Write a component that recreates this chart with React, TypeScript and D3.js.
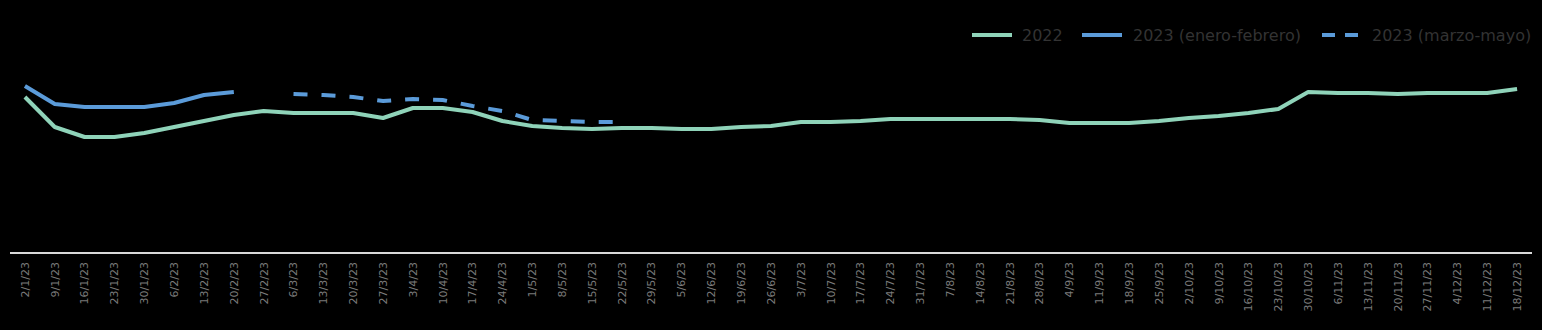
import React from "react";
import * as d3 from "d3";

const weeks = ["2/1/23","9/1/23","16/1/23","23/1/23","30/1/23","6/2/23","13/2/23","20/2/23","27/2/23","6/3/23","13/3/23","20/3/23","27/3/23","3/4/23","10/4/23","17/4/23","24/4/23","1/5/23","8/5/23","15/5/23","22/5/23","29/5/23","5/6/23","12/6/23","19/6/23","26/6/23","3/7/23","10/7/23","17/7/23","24/7/23","31/7/23","7/8/23","14/8/23","21/8/23","28/8/23","4/9/23","11/9/23","18/9/23","25/9/23","2/10/23","9/10/23","16/10/23","23/10/23","30/10/23","6/11/23","13/11/23","20/11/23","27/11/23","4/12/23","11/12/23","18/12/23"];

const series2022 = [78,63,58,58,60,63,66,69,71,70,70,70,67.5,72.5,72.5,70.5,66,63.5,62.5,62,62.5,62.5,62,62,63,63.5,65.5,65.5,66,67,67,67,67,67,66.5,65,65,65,66,67.5,68.5,70,72,80.5,80,80,79.5,80,80,80,82];

const series2023EneFeb: (number | null)[] = [83.5,74.5,73,73,73,75,79,80.5];

const series2023MarMay: (number | null)[] = [null,null,null,null,null,null,null,null,null,79.5,79,78,76,77,76.5,73.5,71,66.5,66,65.5,65.5];

const legendLabels = ["2022", "2023 (enero-febrero)", "2023 (marzo-mayo)"];

const GREEN = "#8fd3b9";
const BLUE = "#5b9bd9";
const W = 1542, H = 330;

export default function App() {
  const x = d3.scaleBand<string>().domain(weeks).range([10, 1532]).padding(0);
  const y = d3.scaleLinear().domain([0, 100]).range([253, 53]);
  const cx = (i: number) => (x(weeks[i]) as number) + x.bandwidth() / 2;

  const line = d3.line<number | null>()
    .defined((d) => d != null)
    .x((_, i) => cx(i))
    .y((d) => y(d as number));

  const legendItems = [
    { label: legendLabels[0], color: GREEN, dash: undefined, sx: 972, tx: 1022 },
    { label: legendLabels[1], color: BLUE, dash: undefined, sx: 1082, tx: 1133 },
    { label: legendLabels[2], color: BLUE, dash: "13,10", sx: 1322, tx: 1372 },
  ];

  return (
    <svg width={W} height={H} style={{ position: "absolute", left: 0, top: 0, display: "block" }}
      fontFamily="'DejaVu Sans', sans-serif">
      <rect x={0} y={0} width={W} height={H} fill="#000" />
      {legendItems.map((it, i) => (
        <g key={i}>
          <line x1={it.sx} x2={it.sx + 40} y1={35} y2={35} stroke={it.color} strokeWidth={4} strokeDasharray={it.dash} />
          <text x={it.tx} y={35} dy="0.35em" fontSize={16} fill="#333">{it.label}</text>
        </g>
      ))}
      <path d={line(series2022) || ""} fill="none" stroke={GREEN} strokeWidth={4} strokeLinejoin="round" />
      <path d={line(series2023EneFeb) || ""} fill="none" stroke={BLUE} strokeWidth={4} strokeLinejoin="round" />
      <path d={line(series2023MarMay) || ""} fill="none" stroke={BLUE} strokeWidth={4} strokeDasharray="14,14" />
      <line x1={10} x2={1532} y1={253} y2={253} stroke="#d9d9d9" strokeWidth={2} />
      {weeks.map((w, i) => (
        <text key={w} transform={`translate(${cx(i)},262) rotate(-90)`} textAnchor="end" dy="0.35em"
          fontSize={11} fill="#7a7a7a">{w}</text>
      ))}
    </svg>
  );
}
